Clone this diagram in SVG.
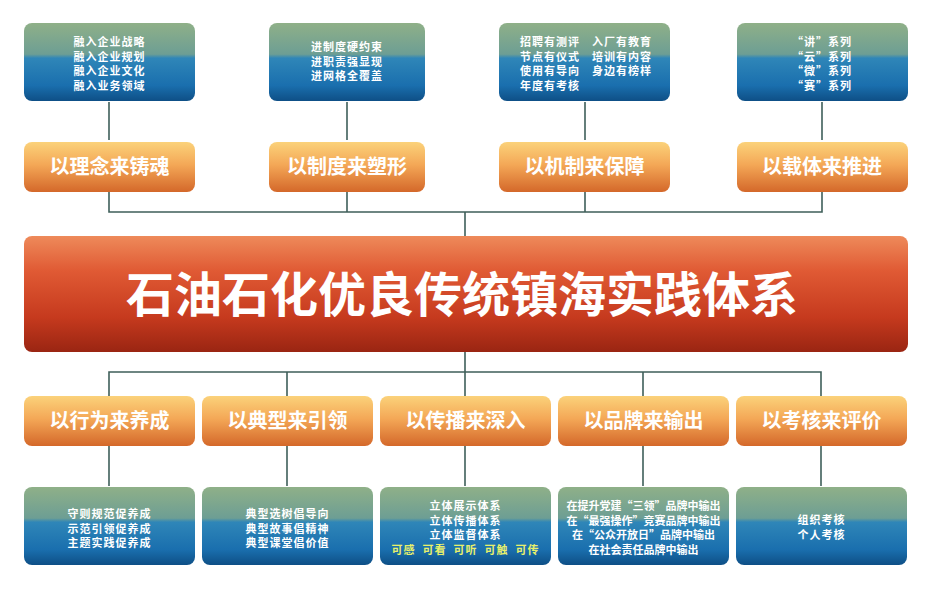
<svg xmlns="http://www.w3.org/2000/svg" width="939" height="589" viewBox="0 0 939 589">
<defs>
<linearGradient id="gb" x1="0" y1="0" x2="0" y2="1">
<stop offset="0" stop-color="#8fb088"/><stop offset="0.4" stop-color="#6d9e94"/><stop offset="0.45" stop-color="#2f86b8"/><stop offset="0.8" stop-color="#1a6fae"/><stop offset="1" stop-color="#0e4f86"/>
</linearGradient>
<linearGradient id="go" x1="0" y1="0" x2="0" y2="1">
<stop offset="0" stop-color="#fbd27a"/><stop offset="0.45" stop-color="#f4a857"/><stop offset="1" stop-color="#d4682a"/>
</linearGradient>
<linearGradient id="gr" x1="0" y1="0" x2="0" y2="1">
<stop offset="0" stop-color="#ee8a5a"/><stop offset="0.3" stop-color="#e05a34"/><stop offset="0.7" stop-color="#c63a1e"/><stop offset="1" stop-color="#9a2512"/>
</linearGradient>
<style>
.b{fill:url(#gb)}.o{fill:url(#go)}
.t{font-family:"Noto Sans CJK SC",sans-serif;font-weight:bold;fill:#fff;text-anchor:middle}
.s{font-size:11px;letter-spacing:1px}.m{font-size:20px}
.st{text-anchor:start}
.y{fill:#e8f06a}
.l{stroke:#3f5f5a;stroke-width:1.6;fill:none}
</style>
</defs>
<rect width="939" height="589" fill="#fff"/>
<g id="connectors" class="l">
<path d="M109 102V140M347 102V140M585 102V140M822 102V140"/>
<path d="M109 192V212H822V192M347 192V212M585 192V212M465 212V236"/>
<path d="M465 352V372M109 396V372H821V396M287 372V396M465 372V396M643 372V396"/>
<path d="M109 446V486M287 446V486M465 446V486M643 446V486M821 446V486"/>
</g>
<g id="top1"><rect class="b" x="24" y="23" width="171" height="78" rx="8"/><text class="t s" x="109.5" y="46">融入企业战略</text><text class="t s" x="109.5" y="60.5">融入企业规划</text><text class="t s" x="109.5" y="75">融入企业文化</text><text class="t s" x="109.5" y="89.5">融入业务领域</text></g>
<g id="top2"><rect class="b" x="269" y="23" width="156" height="78" rx="8"/><text class="t s" x="347" y="51">进制度硬约束</text><text class="t s" x="347" y="65.5">进职责强显现</text><text class="t s" x="347" y="80">进网格全覆盖</text></g>
<g id="top3"><rect class="b" x="499" y="23" width="171" height="78" rx="8"/><text class="t s st" x="520" y="46">招聘有测评　入厂有教育</text><text class="t s st" x="520" y="60.5">节点有仪式　培训有内容</text><text class="t s st" x="520" y="75">使用有导向　身边有榜样</text><text class="t s st" x="520" y="89.5">年度有考核</text></g>
<g id="top4"><rect class="b" x="737" y="23" width="171" height="78" rx="8"/><text class="t s" x="822" y="46">“讲”系列</text><text class="t s" x="822" y="60.5">“云”系列</text><text class="t s" x="822" y="75">“微”系列</text><text class="t s" x="822" y="89.5">“赛”系列</text></g>
<g id="o1"><rect class="o" x="24" y="142" width="171" height="50" rx="8"/><text class="t m" x="109.5" y="174">以理念来铸魂</text></g>
<g id="o2"><rect class="o" x="269" y="142" width="156" height="50" rx="8"/><text class="t m" x="347" y="174">以制度来塑形</text></g>
<g id="o3"><rect class="o" x="499" y="142" width="171" height="50" rx="8"/><text class="t m" x="584.5" y="174">以机制来保障</text></g>
<g id="o4"><rect class="o" x="737" y="142" width="171" height="50" rx="8"/><text class="t m" x="822" y="174">以载体来推进</text></g>
<g id="main"><rect fill="url(#gr)" x="24" y="236" width="884" height="116" rx="8"/><text class="t" x="462" y="312" font-size="48">石油石化优良传统镇海实践体系</text></g>
<g id="b1"><rect class="o" x="24" y="396" width="171" height="50" rx="8"/><text class="t m" x="109.5" y="428">以行为来养成</text></g>
<g id="b2"><rect class="o" x="202" y="396" width="171" height="50" rx="8"/><text class="t m" x="287.5" y="428">以典型来引领</text></g>
<g id="b3"><rect class="o" x="380" y="396" width="171" height="50" rx="8"/><text class="t m" x="465.5" y="428">以传播来深入</text></g>
<g id="b4"><rect class="o" x="558" y="396" width="171" height="50" rx="8"/><text class="t m" x="643.5" y="428">以品牌来输出</text></g>
<g id="b5"><rect class="o" x="736" y="396" width="171" height="50" rx="8"/><text class="t m" x="821.5" y="428">以考核来评价</text></g>
<g id="d1"><rect class="b" x="24" y="487" width="171" height="78" rx="8"/><text class="t s" x="109.5" y="518">守则规范促养成</text><text class="t s" x="109.5" y="532.5">示范引领促养成</text><text class="t s" x="109.5" y="547">主题实践促养成</text></g>
<g id="d2"><rect class="b" x="202" y="487" width="171" height="78" rx="8"/><text class="t s" x="287.5" y="518">典型选树倡导向</text><text class="t s" x="287.5" y="532.5">典型故事倡精神</text><text class="t s" x="287.5" y="547">典型课堂倡价值</text></g>
<g id="d3"><rect class="b" x="380" y="487" width="171" height="78" rx="8"/><text class="t s" x="465.5" y="510">立体展示体系</text><text class="t s" x="465.5" y="524.5">立体传播体系</text><text class="t s" x="465.5" y="539">立体监督体系</text><text class="t s y" x="465.5" y="553.5" xml:space="preserve">可感  可看  可听  可触  可传</text></g>
<g id="d4"><rect class="b" x="558" y="487" width="171" height="78" rx="8"/><text class="t s" x="643.5" y="510" style="letter-spacing:0">在提升党建“三领”品牌中输出</text><text class="t s" x="643.5" y="524.5" style="letter-spacing:0">在“最强操作”竞赛品牌中输出</text><text class="t s" x="643.5" y="539" style="letter-spacing:0">在“公众开放日”品牌中输出</text><text class="t s" x="643.5" y="553.5" style="letter-spacing:0">在社会责任品牌中输出</text></g>
<g id="d5"><rect class="b" x="736" y="487" width="171" height="78" rx="8"/><text class="t s" x="821.5" y="524">组织考核</text><text class="t s" x="821.5" y="538.5">个人考核</text></g>
</svg>
